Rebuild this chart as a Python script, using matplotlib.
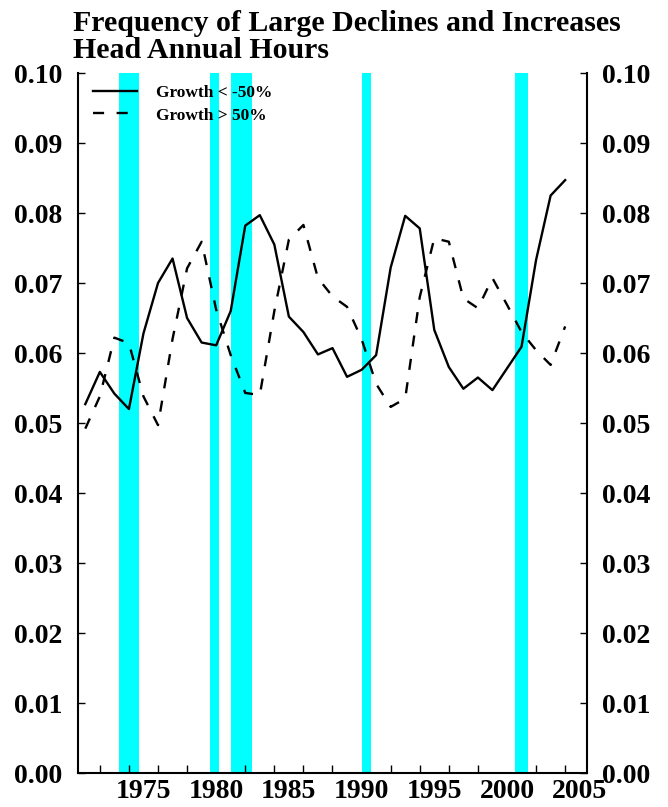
import matplotlib
matplotlib.use("Agg")
import matplotlib.pyplot as plt
from matplotlib.ticker import MultipleLocator, FixedLocator

plt.rcParams['font.family'] = ['Liberation Serif', 'DejaVu Serif']
plt.rcParams['font.weight'] = 'bold'
plt.rcParams['lines.scale_dashes'] = False

years = list(range(1971, 2005))
decline = [0.0527, 0.0573, 0.0542, 0.0520, 0.0628, 0.0700, 0.0735, 0.0650, 0.0615, 0.0611,
           0.0660, 0.0782, 0.0797, 0.0755, 0.0652, 0.0630, 0.0598, 0.0607, 0.0566, 0.0576,
           0.0597, 0.0722, 0.0796, 0.0778, 0.0633, 0.0580, 0.0549, 0.0565, 0.0547, 0.0578,
           0.0609, 0.0733, 0.0825, 0.0847]
increase = [0.0492, 0.0538, 0.0622, 0.0614, 0.0538, 0.0497, 0.0620, 0.0721, 0.0759, 0.0662,
            0.0597, 0.0543, 0.0540, 0.0660, 0.0762, 0.0783, 0.0707, 0.0681, 0.0666, 0.0620,
            0.0556, 0.0523, 0.0535, 0.0680, 0.0764, 0.0759, 0.0678, 0.0664, 0.0707, 0.0669,
            0.0630, 0.0604, 0.0583, 0.0638]
recessions = [(1973.3, 1974.7), (1979.6, 1980.2), (1981.05, 1982.45), (1990.05, 1990.65), (2000.55, 2001.45)]
labels = ["Growth < -50%", "Growth > 50%"]
title = "Frequency of Large Declines and Increases\nHead Annual Hours"

fig = plt.figure(figsize=(6.68, 8.07), dpi=100)
ax = fig.add_axes([0.1168, 0.0421, 0.8787 - 0.1168, 0.9095 - 0.0421])

for a, b in recessions:
    ax.axvspan(a, b, color='#00FFFF', lw=0, zorder=0)

ax.plot(years, decline, color='black', lw=1.7, label=labels[0], zorder=3)
ax.plot(years, increase, color='black', lw=1.7, dashes=(8, 9), label=labels[1], zorder=3)

ax.set_xlim(1970.5, 2005.5)
ax.set_ylim(0.0, 0.10)

ax.spines['top'].set_visible(False)
for s in ['left', 'right', 'bottom']:
    ax.spines[s].set_linewidth(1.5)

ax.xaxis.set_major_locator(FixedLocator([1975, 1980, 1985, 1990, 1995, 2000, 2005]))
ax.xaxis.set_minor_locator(FixedLocator(list(range(1972, 2006, 2))))
ax.tick_params(axis='x', which='major', length=0, pad=4, labelsize=20)
ax.tick_params(axis='x', which='minor', direction='in', length=6, width=1)
ax.set_xticklabels([str(y) for y in [1975, 1980, 1985, 1990, 1995, 2000, 2005]], fontweight='bold')

ax.yaxis.set_major_locator(MultipleLocator(0.01))
ax.tick_params(axis='y', which='major', direction='in', length=5, width=1, labelsize=20,
               left=True, right=True, labelleft=True, labelright=True, pad=11)
ax.yaxis.set_major_formatter(matplotlib.ticker.FormatStrFormatter('%.2f'))
for lab in ax.get_yticklabels():
    lab.set_fontweight('bold')

leg = ax.legend(loc='upper left', frameon=False, prop={'size': 12.5, 'weight': 'bold'},
                handlelength=2.5, handletextpad=1.1, borderaxespad=0.3, labelspacing=0.35,
                bbox_to_anchor=(0.006, 1.0))

fig.text(0.109, 0.987, title, fontsize=21.5, fontweight='bold', ha='left', va='top',
         linespacing=1.0)

fig.savefig('out.png', dpi=100)
